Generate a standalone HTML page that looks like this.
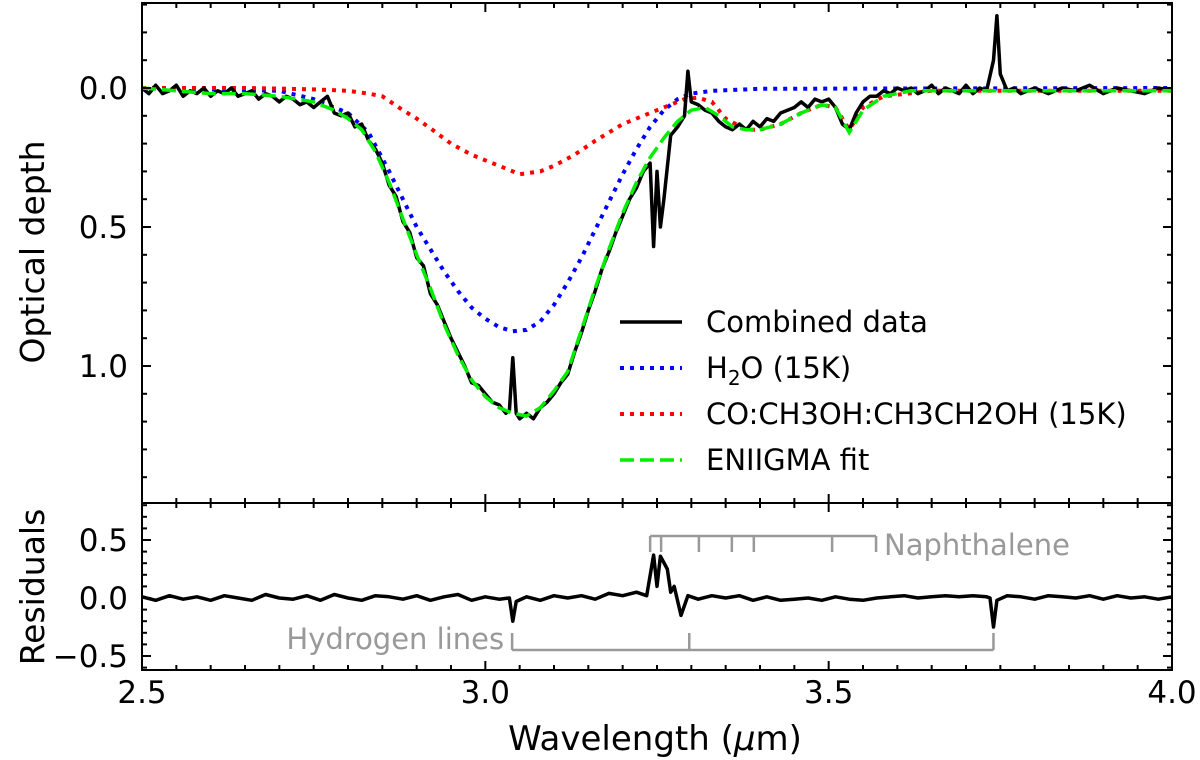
<!DOCTYPE html>
<html><head><meta charset="utf-8"><style>
body{margin:0;background:#fff}
svg{display:block;font-family:"DejaVu Sans","Liberation Sans",sans-serif}
</style></head><body>
<svg id="c" width="1200" height="760" viewBox="0 0 1200 760">
<g id="g"></g>
</svg>
<script>
const fitLam=[2.50,2.55,2.60,2.65,2.70,2.75,2.78,2.80,2.82,2.84,2.86,2.88,2.90,2.92,2.94,2.96,2.98,3.00,3.02,3.04,3.06,3.08,3.10,3.12,3.14,3.16,3.18,3.20,3.22,3.24,3.26,3.28,3.30,3.32,3.34,3.36,3.38,3.40,3.43,3.46,3.49,3.51,3.53,3.55,3.58,3.62,3.70,3.80,3.90,4.00];
const fitTau=[0.00,0.01,0.02,0.02,0.03,0.05,0.08,0.11,0.15,0.23,0.34,0.47,0.60,0.72,0.85,0.96,1.05,1.11,1.15,1.17,1.18,1.15,1.09,1.02,0.87,0.72,0.58,0.45,0.34,0.25,0.18,0.12,0.08,0.07,0.10,0.14,0.15,0.15,0.13,0.09,0.06,0.07,0.16,0.08,0.03,0.01,0.01,0.01,0.01,0.01];
const h2oLam=[2.50,2.70,2.75,2.80,2.83,2.86,2.88,2.90,2.92,2.94,2.96,2.98,3.00,3.02,3.04,3.06,3.08,3.10,3.12,3.14,3.16,3.18,3.20,3.22,3.24,3.26,3.28,3.30,3.33,3.40,4.00];
const h2oTau=[0,0.01,0.04,0.09,0.16,0.30,0.40,0.50,0.58,0.66,0.73,0.79,0.83,0.86,0.875,0.87,0.84,0.78,0.70,0.61,0.51,0.41,0.31,0.22,0.14,0.08,0.04,0.02,0.01,0.003,0];
const coLam=[2.50,2.65,2.70,2.75,2.80,2.83,2.85,2.88,2.90,2.92,2.95,2.98,3.00,3.02,3.05,3.08,3.10,3.13,3.16,3.20,3.25,3.29,3.31,3.33,3.35,3.38,3.40,3.43,3.46,3.49,3.51,3.53,3.55,3.58,3.65,4.00];
const coTau=[0,0,0.002,0.005,0.01,0.02,0.03,0.08,0.11,0.145,0.2,0.24,0.26,0.28,0.31,0.30,0.28,0.24,0.19,0.13,0.08,0.04,0.035,0.05,0.11,0.15,0.15,0.13,0.09,0.06,0.07,0.15,0.07,0.03,0.01,0.01];
const dataLam=[2.50,2.51,2.52,2.53,2.54,2.55,2.56,2.57,2.58,2.59,2.60,2.61,2.62,2.63,2.64,2.65,2.66,2.67,2.68,2.69,2.70,2.71,2.72,2.73,2.74,2.75,2.76,2.77,2.78,2.79,2.80,2.81,2.82,2.83,2.84,2.85,2.86,2.87,2.88,2.89,2.90,2.91,2.92,2.93,2.94,2.95,2.96,2.97,2.98,2.99,3.00,3.01,3.02,3.03,3.035,3.04,3.045,3.05,3.06,3.07,3.08,3.09,3.10,3.11,3.12,3.13,3.14,3.15,3.16,3.17,3.18,3.19,3.20,3.21,3.22,3.23,3.24,3.245,3.25,3.255,3.26,3.27,3.28,3.29,3.295,3.30,3.31,3.32,3.33,3.34,3.35,3.36,3.37,3.38,3.39,3.40,3.41,3.42,3.43,3.44,3.45,3.46,3.47,3.48,3.49,3.50,3.51,3.52,3.53,3.54,3.55,3.56,3.57,3.58,3.59,3.60,3.61,3.62,3.63,3.64,3.65,3.66,3.67,3.68,3.69,3.70,3.71,3.72,3.73,3.74,3.745,3.75,3.76,3.77,3.78,3.79,3.80,3.82,3.84,3.86,3.88,3.90,3.92,3.94,3.96,3.98,4.00];
const dataTau=[0.00,0.02,-0.01,0.02,0.01,-0.01,0.03,0.01,0.02,0.00,0.03,0.01,0.02,0.00,0.03,0.02,0.01,0.04,0.02,0.03,0.05,0.03,0.04,0.06,0.05,0.07,0.05,0.03,0.09,0.10,0.09,0.14,0.13,0.19,0.22,0.27,0.35,0.39,0.48,0.52,0.61,0.64,0.74,0.78,0.84,0.90,0.95,1.00,1.06,1.07,1.10,1.13,1.14,1.17,1.16,0.97,1.17,1.19,1.17,1.19,1.15,1.13,1.10,1.06,1.03,0.95,0.88,0.80,0.73,0.65,0.59,0.52,0.46,0.40,0.36,0.30,0.27,0.57,0.30,0.50,0.40,0.17,0.14,0.10,-0.06,0.05,0.06,0.08,0.09,0.12,0.14,0.15,0.13,0.15,0.12,0.14,0.11,0.12,0.09,0.08,0.07,0.05,0.07,0.04,0.05,0.04,0.07,0.13,0.15,0.09,0.05,0.03,0.03,0.01,0.02,0.00,0.01,0.00,0.02,0.01,-0.01,0.02,0.00,0.01,0.02,-0.01,0.02,0.00,0.01,-0.10,-0.26,-0.05,0.01,0.00,0.02,0.01,0.00,0.02,0.00,0.01,-0.01,0.02,0.00,0.01,0.02,0.00,0.01];
const resLam=[2.50,2.52,2.54,2.56,2.58,2.60,2.62,2.64,2.66,2.68,2.70,2.72,2.74,2.76,2.78,2.80,2.82,2.84,2.86,2.88,2.90,2.92,2.94,2.96,2.98,3.00,3.02,3.035,3.04,3.045,3.06,3.08,3.10,3.12,3.14,3.16,3.18,3.20,3.22,3.235,3.245,3.25,3.255,3.265,3.27,3.275,3.285,3.295,3.31,3.33,3.35,3.37,3.39,3.41,3.43,3.45,3.47,3.49,3.51,3.53,3.55,3.57,3.59,3.61,3.63,3.65,3.67,3.69,3.71,3.73,3.735,3.74,3.745,3.76,3.78,3.80,3.82,3.84,3.86,3.88,3.90,3.92,3.94,3.96,3.98,4.00];
const resVal=[0.01,-0.02,0.02,-0.01,0.01,-0.02,0.02,0.00,-0.02,0.03,0.00,-0.01,0.02,-0.02,0.03,0.00,-0.02,0.02,0.01,-0.01,0.02,-0.02,0.01,0.03,-0.02,0.01,-0.01,0.00,-0.20,-0.03,0.01,-0.02,0.02,0.00,0.02,-0.01,0.04,0.02,0.05,0.02,0.37,0.10,0.36,0.25,0.05,0.10,-0.15,0.02,-0.01,0.02,0.00,0.02,-0.02,0.01,-0.02,-0.01,0.00,-0.02,0.01,-0.01,-0.02,0.00,0.01,0.02,0.00,0.01,0.02,0.01,0.02,0.01,0.00,-0.25,-0.02,0.02,0.01,-0.01,0.02,0.01,0.00,0.02,-0.01,0.02,0.00,0.01,-0.01,0.01];
const xTicks=[2.5,3.0,3.5,4.0];
const xTickLabels=["2.5","3.0","3.5","4.0"];
const topTicks=[0,0.5,1.0];
const topTickLabels=["0.0","0.5","1.0"];
const botTicks=[-0.5,0,0.5];
const botTickLabels=["\u22120.5","0.0","0.5"];
const naphLines=[3.24,3.256,3.311,3.359,3.391,3.505,3.569];
const hydLines=[3.039,3.297,3.740];

const NS="http://www.w3.org/2000/svg";
const G=document.getElementById('g');
const L=142,R=1172,T=3,M=503,B=670;
const x=v=>L+(v-2.5)/1.5*(R-L);
const yt=v=>88+v*278;
const yb=v=>598-v*116;
function mk(tag,attrs,parent){const e=document.createElementNS(NS,tag);for(const k in attrs)e.setAttribute(k,attrs[k]);(parent||G).appendChild(e);return e;}
function pathD(lx,ly,fy){return lx.map((v,i)=>(i?'L':'M')+x(v).toFixed(1)+','+fy(ly[i]).toFixed(1)).join('');}

let p;
p=mk('path',{d:pathD(h2oLam,h2oTau,yt),fill:'none',stroke:'#0000ff','stroke-width':4,'stroke-dasharray':'4 6'});


p=mk('path',{d:pathD(coLam,coTau,yt),fill:'none',stroke:'#ff0000','stroke-width':4,'stroke-dasharray':'4 6'});


p=mk('path',{d:pathD(dataLam,dataTau,yt),fill:'none',stroke:'#000','stroke-width':3.5,'stroke-linejoin':'round'});


p=mk('path',{d:pathD(fitLam,fitTau,yt),fill:'none',stroke:'#00ee00','stroke-width':3.5,'stroke-dasharray':'14 6'});


p=mk('path',{d:pathD(resLam,resVal,yb),fill:'none',stroke:'#000','stroke-width':3.5,'stroke-linejoin':'round'});



const gr='#999';
const nb=mk('g',{stroke:gr,'stroke-width':2.5,fill:'none'});


mk('line',{x1:x(naphLines[0]),x2:x(naphLines[naphLines.length-1]),y1:536,y2:536},nb);
naphLines.forEach(v=>mk('line',{x1:x(v),x2:x(v),y1:536,y2:552},nb));
let t=mk('text',{x:x(naphLines[naphLines.length-1])+8,y:555,'font-size':29,fill:gr});t.textContent='Naphthalene';


const hb=mk('g',{stroke:gr,'stroke-width':2.5,fill:'none'});


mk('line',{x1:x(hydLines[0]),x2:x(hydLines[hydLines.length-1]),y1:650,y2:650},hb);
hydLines.forEach(v=>mk('line',{x1:x(v),x2:x(v),y1:650,y2:633},hb));
t=mk('text',{x:x(hydLines[0])-8,y:649,'font-size':29,fill:gr,'text-anchor':'end'});t.textContent='Hydrogen lines';



p=mk('rect',{x:L,y:T,width:R-L,height:M-T,fill:'none',stroke:'#000','stroke-width':2});


p=mk('rect',{x:L,y:M,width:R-L,height:B-M,fill:'none',stroke:'#000','stroke-width':2});



const tk=mk('g',{stroke:'#000','stroke-width':2});


for(let i=0;i<=30;i++){const v=2.5+i*0.05;const X=x(v);const len=(i%10===0)?9:5;
 [T,M,B].forEach(Y=>{ if(Y!==T) mk('line',{x1:X,x2:X,y1:Y,y2:Y-len},tk); if(Y!==B) mk('line',{x1:X,x2:X,y1:Y,y2:Y+len},tk);});}
for(let i=-3;i<=14;i++){const Y=yt(i/10);const len=(i%5===0)?9:5;mk('line',{x1:L,x2:L+len,y1:Y,y2:Y},tk);mk('line',{x1:R,x2:R-len,y1:Y,y2:Y},tk);}
for(let i=-6;i<=8;i++){const Y=yb(i/10);const len=(i%5===0)?9:5;mk('line',{x1:L,x2:L+len,y1:Y,y2:Y},tk);mk('line',{x1:R,x2:R-len,y1:Y,y2:Y},tk);}

xTicks.forEach((v,i)=>{const e=mk('text',{x:x(v),y:703,'font-size':31,'text-anchor':'middle'});e.textContent=xTickLabels[i];

});
topTicks.forEach((v,i)=>{const e=mk('text',{x:128,y:yt(v)+11,'font-size':31,'text-anchor':'end'});e.textContent=topTickLabels[i];

});
botTicks.forEach((v,i)=>{const e=mk('text',{x:128,y:yb(v)+11,'font-size':31,'text-anchor':'end'});e.textContent=botTickLabels[i];

});

t=mk('text',{x:655,y:750,'font-size':34,'text-anchor':'middle'});t.innerHTML='Wavelength (<tspan font-style="italic">μ</tspan>m)';


t=mk('text',{x:0,y:0,'font-size':33,'text-anchor':'middle',transform:'translate(44,252) rotate(-90)'});t.textContent='Optical depth';


t=mk('text',{x:0,y:0,'font-size':33,'text-anchor':'middle',transform:'translate(44,587) rotate(-90)'});t.textContent='Residuals';



const lg=mk('g',{});


const legs=[['Combined data','#000',3.5,'none'],['H2O','#0000ff',4,'4 6'],['CO:CH3OH:CH3CH2OH (15K)','#ff0000',4,'4 6'],['ENIIGMA fit','#00ee00',3.5,'14 6']];
const legNames=['legend-entry-data','legend-entry-h2o','legend-entry-co','legend-entry-fit'];
legs.forEach((l,i)=>{const Y=322+i*46;const row=mk('g',{},lg);
 
 
 mk('line',{x1:620,x2:682,y1:Y,y2:Y,stroke:l[1],'stroke-width':l[2],'stroke-dasharray':l[3]},row);
 const e=mk('text',{x:706,y:Y+10,'font-size':29},row);
 if(l[0]==='H2O') e.innerHTML='H<tspan font-size="20" dy="7">2</tspan><tspan dy="-7">O (15K)</tspan>'; else e.textContent=l[0];});
</script>
</body></html>
